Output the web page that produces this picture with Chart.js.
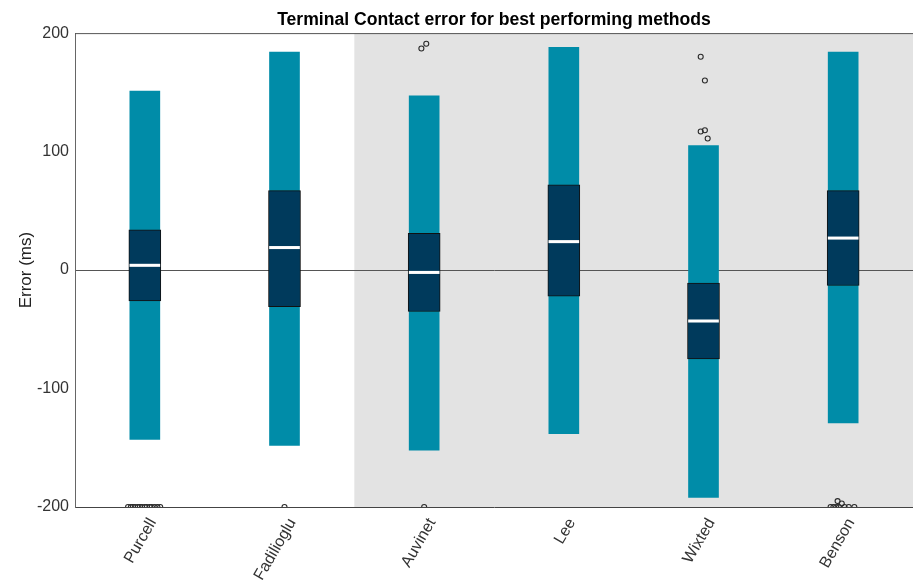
<!DOCTYPE html>
<html>
<head>
<meta charset="utf-8">
<script src="https://cdn.jsdelivr.net/npm/chart.js@4"></script>
<style>
  html, body { margin: 0; padding: 0; background: #fff; }
</style>
</head>
<body>
<canvas id="Chart" width="913" height="580"></canvas>
<script>
// categories and box plot stats (ms)
const methods = ['Purcell', 'Fadilioglu', 'Auvinet', 'Lee', 'Wixted', 'Benson'];
const whiskerLow  = [-143, -148, -152, -138, -192, -129];
const whiskerHigh = [151, 184, 147, 188, 105, 184];
const q1 = [-26, -31, -35, -22, -75, -13];
const q3 = [34, 67, 31, 72, -11, 67];
const medians = [4, 19, -2, 24, -43, 27];

// outliers: method index, small horizontal offset, value
const outlierMethod = [0,0,0,0,0,0,0,0,0,0,0,0,0,0, 1, 2,2,2, 4,4,4,4,4, 5,5,5,5,5,5,5,5,5];
const outlierOffset = [-0.12,-0.10,-0.085,-0.07,-0.05,-0.035,-0.02,0.0,0.015,0.035,0.05,0.07,0.09,0.11,
                       0.0, 0.0,-0.02,0.015, -0.02,0.01,-0.02,0.01,0.03,
                       -0.09,-0.07,-0.05,-0.03,-0.04,-0.01,0.01,0.04,0.08];
const outlierValue  = [-200,-200,-200,-200,-200,-200,-200,-200,-200,-200,-200,-200,-200,-200,
                       -200, -200,187,191, 180,160,117,118,111,
                       -200,-200,-200,-200,-195,-197,-200,-200,-200];

const yTicks = [-200, -100, 0, 100, 200];

const teal = '#008CA8';
const navy = '#003A5C';
const font = 'Liberation Sans, Arial, sans-serif';

const outlierPoints = outlierMethod.map((m, i) => ({ x: m + outlierOffset[i], y: outlierValue[i] }));

// grey panel behind the last four methods + top frame line
const panelPlugin = {
    id: 'panel',
    beforeDraw(chart) {
        const ctx = chart.ctx;
        const area = chart.chartArea;
        const x0 = chart.scales.x2.getPixelForValue(1.5);
        ctx.save();
        ctx.fillStyle = '#E3E3E3';
        ctx.fillRect(x0, area.top, area.right - x0, area.bottom - area.top);
        ctx.restore();
    },
    afterDraw(chart) {
        const ctx = chart.ctx;
        const area = chart.chartArea;
        ctx.save();
        ctx.strokeStyle = '#555';
        ctx.lineWidth = 1;
        ctx.beginPath();
        ctx.moveTo(area.left, area.top + 0.5);
        ctx.lineTo(area.right, area.top + 0.5);
        ctx.stroke();
        ctx.restore();
    }
};

function main()
{
    var ctx = document.getElementById('Chart');
    new Chart(ctx, {
        type: 'bar',
        data: {
            labels: methods,
            datasets: [
                {
                    type: 'scatter',
                    data: outlierPoints,
                    xAxisID: 'x2',
                    pointRadius: 2.5,
                    pointBorderWidth: 1.1,
                    pointBackgroundColor: 'rgba(0,0,0,0)',
                    pointBorderColor: '#2a2a2a',
                    order: 0
                },
                {
                    data: medians.map(m => [m - 1, m + 1]),
                    backgroundColor: '#ffffff',
                    borderWidth: 0,
                    barThickness: 30,
                    grouped: false,
                    order: 1
                },
                {
                    data: q1.map((v, i) => [v, q3[i]]),
                    backgroundColor: navy,
                    borderColor: '#111',
                    borderWidth: 1,
                    borderSkipped: false,
                    barThickness: 32,
                    grouped: false,
                    order: 2
                },
                {
                    data: whiskerLow.map((v, i) => [v, whiskerHigh[i]]),
                    backgroundColor: teal,
                    borderWidth: 0,
                    barThickness: 30,
                    grouped: false,
                    order: 3
                }
            ]
        },
        options: {
            responsive: false,
            animation: false,
            layout: { autoPadding: false, padding: 0 },
            plugins: {
                legend: { display: false },
                tooltip: { enabled: false },
                title: {
                    display: true,
                    text: 'Terminal Contact error for best performing methods',
                    fullSize: false,
                    color: '#000',
                    font: { family: font, size: 17.6, weight: 'bold' },
                    padding: { top: 10, bottom: 2 }
                }
            },
            scales: {
                x: {
                    offset: true,
                    grid: { display: false, drawTicks: false },
                    border: { display: true, color: '#444', width: 1 },
                    ticks: {
                        color: '#333',
                        font: { family: font, size: 16 },
                        maxRotation: 60,
                        minRotation: 60,
                        padding: 8,
                        labelOffset: 8
                    },
                    afterFit(scale) {
                        scale.height = 73;
                        scale.paddingLeft = 0;
                        scale.paddingRight = 0;
                    }
                },
                x2: {
                    type: 'linear',
                    display: false,
                    offset: false,
                    min: -0.5,
                    max: 5.5
                },
                y: {
                    min: -200,
                    max: 200,
                    afterBuildTicks(scale) { scale.ticks = yTicks.map(v => ({ value: v })); },
                    grid: {
                        drawTicks: false,
                        color: c => (c.tick && c.tick.value === 0) ? '#555' : 'rgba(0,0,0,0)'
                    },
                    border: { display: true, color: '#666', width: 1 },
                    ticks: {
                        color: '#333',
                        font: { family: font, size: 16 },
                        padding: 6
                    },
                    title: {
                        display: true,
                        text: 'Error (ms)',
                        color: '#222',
                        font: { family: font, size: 17 },
                        padding: { top: 16, bottom: 0 }
                    },
                    afterFit(scale) { scale.width = 75; }
                }
            }
        },
        plugins: [panelPlugin]
    });
}

main();
</script>
</body>
</html>
